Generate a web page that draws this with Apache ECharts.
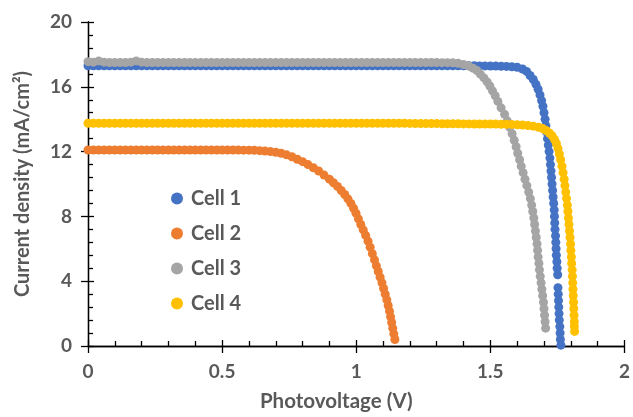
<!DOCTYPE html>
<html>
<head>
<meta charset="utf-8">
<script src="https://cdn.jsdelivr.net/npm/echarts@6/dist/echarts.min.js"></script>
<style>html,body{margin:0;padding:0;background:#fff}#c{width:633px;height:417px}</style>
</head>
<body>
<div id="c"></div>
<script>
const seriesNames = ['Cell 1', 'Cell 2', 'Cell 3', 'Cell 4'];
const xTicks = [0, 0.5, 1, 1.5, 2];
const yTicks = [0, 4, 8, 12, 16, 20];

// Cell 1: [voltage (V), current density (mA/cm2)]
const cell1 = [
[0,17.3],[0.02,17.3],[0.04,17.3],[0.06,17.3],[0.08,17.3],[0.1,17.3],[0.12,17.3],[0.14,17.3],[0.16,17.3],[0.18,17.3],
[0.2,17.3],[0.22,17.3],[0.24,17.3],[0.26,17.3],[0.28,17.3],[0.3,17.3],[0.32,17.3],[0.34,17.3],[0.36,17.3],[0.38,17.3],
[0.4,17.3],[0.42,17.3],[0.44,17.3],[0.46,17.3],[0.48,17.3],[0.5,17.3],[0.52,17.3],[0.54,17.3],[0.56,17.3],[0.58,17.3],
[0.6,17.3],[0.62,17.3],[0.64,17.3],[0.66,17.3],[0.68,17.3],[0.7,17.3],[0.72,17.3],[0.74,17.3],[0.76,17.3],[0.78,17.3],
[0.8,17.3],[0.82,17.3],[0.84,17.3],[0.86,17.3],[0.88,17.3],[0.9,17.3],[0.92,17.3],[0.94,17.3],[0.96,17.3],[0.98,17.3],
[1,17.3],[1.02,17.3],[1.04,17.3],[1.06,17.3],[1.08,17.3],[1.1,17.3],[1.12,17.3],[1.14,17.3],[1.16,17.3],[1.18,17.3],
[1.2,17.3],[1.22,17.3],[1.24,17.3],[1.26,17.3],[1.28,17.3],[1.3,17.3],[1.32,17.3],[1.34,17.3],[1.36,17.3],[1.38,17.3],
[1.4,17.3],[1.42,17.3],[1.44,17.3],[1.46,17.29],[1.48,17.29],[1.5,17.28],
[1.52,17.28],[1.54,17.27],[1.56,17.26],[1.58,17.24],[1.6,17.2],[1.62,17.1],[1.635,16.95],[1.648,16.7],[1.66,16.45],[1.67,16.15],
[1.678,15.85],[1.685,15.5],[1.691,15.15],[1.696,14.8],[1.7,14.4],[1.704,14.0],[1.707,13.6],[1.71,13.2],[1.713,12.8],[1.716,12.4],
[1.719,12.0],[1.722,11.6],[1.724,11.2],[1.726,10.8],[1.728,10.4],[1.73,10.0],[1.732,9.6],[1.734,9.2],[1.736,8.8],[1.738,8.4],
[1.739,8.0],[1.74,7.6],[1.741,7.2],[1.743,6.8],[1.744,6.4],[1.745,6.0],[1.746,5.6],[1.748,5.2],[1.749,4.8],[1.751,4.4],
[1.752,3.6],[1.753,3.2],[1.754,2.8],[1.755,2.4],[1.756,2.0],[1.757,1.6],[1.759,1.2],[1.76,0.8],[1.761,0.4],[1.763,0.05]
];

// Cell 2
const cell2 = [
[0,12.1],[0.02,12.1],[0.04,12.1],[0.06,12.1],[0.08,12.1],[0.1,12.1],[0.12,12.1],[0.14,12.1],[0.16,12.1],[0.18,12.1],
[0.2,12.1],[0.22,12.1],[0.24,12.1],[0.26,12.1],[0.28,12.1],[0.3,12.1],[0.32,12.1],[0.34,12.1],[0.36,12.1],[0.38,12.1],
[0.4,12.1],[0.42,12.1],[0.44,12.1],[0.46,12.1],[0.48,12.1],[0.5,12.1],[0.52,12.1],[0.54,12.1],[0.56,12.1],[0.58,12.09],
[0.6,12.09],[0.62,12.08],[0.64,12.06],[0.66,12.03],[0.68,12.0],[0.7,11.96],[0.72,11.9],[0.74,11.8],[0.76,11.68],[0.78,11.53],
[0.8,11.38],[0.82,11.2],[0.84,11.0],[0.86,10.8],[0.88,10.55],[0.9,10.3],[0.915,10.08],[0.93,9.85],[0.944,9.6],[0.957,9.35],
[0.969,9.08],[0.98,8.8],[0.99,8.5],[0.999,8.2],[1.008,7.85],[1.017,7.5],[1.026,7.17],[1.035,6.83],[1.044,6.47],[1.052,6.1],
[1.06,5.7],[1.068,5.32],[1.075,4.95],[1.082,4.6],[1.089,4.25],[1.096,3.9],[1.102,3.55],[1.108,3.2],[1.114,2.85],[1.119,2.5],
[1.124,2.15],[1.128,1.8],[1.132,1.45],[1.136,1.1],[1.14,0.75],[1.144,0.4]
];

// Cell 3
const cell3 = [
[0,17.55],[0.02,17.52],[0.04,17.6],[0.06,17.52],[0.08,17.5],[0.1,17.5],[0.12,17.5],[0.14,17.5],[0.16,17.52],[0.18,17.6],
[0.2,17.52],[0.22,17.5],[0.24,17.5],[0.26,17.5],[0.28,17.5],[0.3,17.5],[0.32,17.5],[0.34,17.5],[0.36,17.5],[0.38,17.5],
[0.4,17.5],[0.42,17.5],[0.44,17.5],[0.46,17.5],[0.48,17.5],[0.5,17.5],[0.52,17.5],[0.54,17.5],[0.56,17.5],[0.58,17.5],
[0.6,17.5],[0.62,17.5],[0.64,17.5],[0.66,17.5],[0.68,17.5],[0.7,17.5],[0.72,17.5],[0.74,17.5],[0.76,17.5],[0.78,17.5],
[0.8,17.5],[0.82,17.5],[0.84,17.5],[0.86,17.5],[0.88,17.5],[0.9,17.5],[0.92,17.5],[0.94,17.5],[0.96,17.5],[0.98,17.5],
[1,17.5],[1.02,17.5],[1.04,17.5],[1.06,17.5],[1.08,17.5],[1.1,17.5],[1.12,17.5],[1.14,17.5],[1.16,17.5],[1.18,17.5],
[1.2,17.5],[1.22,17.5],[1.24,17.5],[1.26,17.5],[1.28,17.5],[1.3,17.5],[1.32,17.49],[1.34,17.49],
[1.36,17.48],[1.38,17.45],[1.4,17.38],[1.42,17.28],[1.435,17.15],[1.45,17.0],[1.463,16.78],[1.476,16.55],[1.488,16.3],[1.498,16.05],
[1.508,15.75],[1.518,15.45],[1.528,15.1],[1.54,14.7],[1.553,14.3],[1.563,13.9],[1.572,13.5],[1.581,13.1],[1.589,12.7],[1.596,12.3],
[1.602,11.9],[1.609,11.5],[1.615,11.1],[1.622,10.7],[1.629,10.3],[1.636,9.9],[1.643,9.5],[1.649,9.1],[1.654,8.7],[1.658,8.3],
[1.662,7.9],[1.665,7.5],[1.668,7.1],[1.671,6.7],[1.674,6.3],[1.676,5.9],[1.678,5.5],[1.681,5.1],[1.683,4.7],[1.686,4.3],
[1.689,3.9],[1.692,3.5],[1.695,3.1],[1.698,2.7],[1.7,2.3],[1.702,1.9],[1.704,1.5],[1.706,1.1]
];

// Cell 4
const cell4 = [
[0,13.75],[0.02,13.75],[0.04,13.75],[0.06,13.75],[0.08,13.75],[0.1,13.75],[0.12,13.75],[0.14,13.75],[0.16,13.75],[0.18,13.75],
[0.2,13.75],[0.22,13.75],[0.24,13.75],[0.26,13.75],[0.28,13.75],[0.3,13.75],[0.32,13.75],[0.34,13.75],[0.36,13.75],[0.38,13.75],
[0.4,13.75],[0.42,13.75],[0.44,13.75],[0.46,13.75],[0.48,13.75],[0.5,13.75],[0.52,13.75],[0.54,13.75],[0.56,13.75],[0.58,13.75],
[0.6,13.75],[0.62,13.75],[0.64,13.75],[0.66,13.75],[0.68,13.75],[0.7,13.75],[0.72,13.75],[0.74,13.75],[0.76,13.75],[0.78,13.75],
[0.8,13.75],[0.82,13.75],[0.84,13.75],[0.86,13.75],[0.88,13.75],[0.9,13.75],[0.92,13.75],[0.94,13.75],[0.96,13.75],[0.98,13.75],
[1,13.75],[1.02,13.75],[1.04,13.75],[1.06,13.75],[1.08,13.75],[1.1,13.75],[1.12,13.75],[1.14,13.75],[1.16,13.75],[1.18,13.75],
[1.2,13.74],[1.22,13.73],[1.24,13.73],[1.26,13.73],[1.28,13.73],[1.3,13.73],[1.32,13.72],[1.34,13.72],[1.36,13.72],[1.38,13.72],
[1.4,13.71],[1.42,13.71],[1.44,13.7],[1.46,13.7],[1.48,13.7],[1.5,13.7],[1.52,13.7],[1.54,13.69],[1.56,13.69],
[1.58,13.68],[1.6,13.66],[1.62,13.64],[1.64,13.61],[1.66,13.57],[1.68,13.5],[1.695,13.42],[1.708,13.3],[1.72,13.15],[1.73,12.98],
[1.739,12.75],[1.746,12.5],[1.752,12.2],[1.757,11.85],[1.762,11.5],[1.767,11.1],[1.771,10.7],[1.775,10.3],[1.778,9.9],[1.781,9.5],
[1.784,9.1],[1.787,8.7],[1.789,8.3],[1.791,7.9],[1.793,7.5],[1.795,7.1],[1.797,6.7],[1.799,6.3],[1.8,5.9],[1.802,5.5],
[1.803,5.1],[1.805,4.7],[1.806,4.3],[1.807,3.9],[1.808,3.5],[1.809,3.1],[1.81,2.7],[1.811,2.3],[1.812,1.9],[1.813,1.5],
[1.813,1.2],[1.814,0.9]
];

const colors = ['#4472C4', '#ED7D31', '#A5A5A5', '#FFC000'];
const allData = [cell1, cell2, cell3, cell4];
const FONT = 'Lato, "Open Sans", sans-serif';
const TXT = '#595959';

const chart = echarts.init(document.getElementById('c'), null, {renderer: 'canvas'});
const axisLineStyle = {color: '#000', width: 1.3};

chart.setOption({
  animation: false,
  color: colors,
  grid: {left: 88, right: 5, top: 22, bottom: 64, containLabel: false},
  legend: {
    data: seriesNames,
    orient: 'vertical',
    left: 166, top: 182,
    icon: 'circle',
    itemWidth: 12, itemHeight: 12,
    itemGap: 12,
    textStyle: {fontFamily: FONT, fontSize: 20, fontWeight: 'bold', color: TXT, lineHeight: 23, padding: [0,0,0,3]}
  },
  xAxis: [{
    type: 'value', min: xTicks[0], max: xTicks[xTicks.length - 1], interval: 0.5, position: 'bottom',
    name: 'Photovoltage (V)', nameLocation: 'middle', nameGap: 45,
    nameTextStyle: {fontFamily: FONT, fontSize: 20.5, fontWeight: 'bold', color: TXT, padding: [0, 40, 0, 0]},
    axisLine: {show: true, lineStyle: axisLineStyle},
    axisTick: {show: true, length: 7, lineStyle: axisLineStyle},
    axisLabel: {fontFamily: FONT, fontSize: 19, fontWeight: 'bold', color: TXT, margin: 16,
      formatter: v => xTicks.includes(v) ? String(v) : ''},
    splitLine: {show: false}
  }, {
    type: 'value', min: xTicks[0], max: xTicks[xTicks.length - 1], interval: 0.5, position: 'bottom',
    axisLine: {show: true, lineStyle: axisLineStyle},
    axisTick: {show: true, inside: true, length: 6, lineStyle: axisLineStyle},
    minorTick: {show: true, splitNumber: 5, length: 5, lineStyle: axisLineStyle},
    axisLabel: {show: false},
    splitLine: {show: false}
  }],
  yAxis: [{
    type: 'value', min: yTicks[0], max: yTicks[yTicks.length - 1], interval: 4, position: 'left',
    name: 'Current density (mA/cm²)', nameLocation: 'middle', nameGap: 55, nameRotate: 90,
    nameTextStyle: {fontFamily: FONT, fontSize: 20, fontWeight: 'bold', color: TXT},
    axisLine: {show: true, lineStyle: axisLineStyle},
    axisTick: {show: true, length: 7, lineStyle: axisLineStyle},
    axisLabel: {fontFamily: FONT, fontSize: 19, fontWeight: 'bold', color: TXT, margin: 16,
      formatter: v => yTicks.includes(v) ? String(v) : ''},
    splitLine: {show: false}
  }, {
    type: 'value', min: yTicks[0], max: yTicks[yTicks.length - 1], interval: 4, position: 'left',
    axisLine: {show: true, lineStyle: axisLineStyle},
    axisTick: {show: true, inside: true, length: 6, lineStyle: axisLineStyle},
    minorTick: {show: true, splitNumber: 5, length: 5, lineStyle: axisLineStyle},
    axisLabel: {show: false},
    splitLine: {show: false}
  }],
  series: allData.map((d, i) => ({
    name: seriesNames[i],
    type: 'scatter',
    xAxisIndex: 0, yAxisIndex: 0,
    symbol: 'circle',
    symbolSize: 9,
    itemStyle: {color: colors[i], opacity: 1},
    data: d
  }))
});
</script>
</body>
</html>
